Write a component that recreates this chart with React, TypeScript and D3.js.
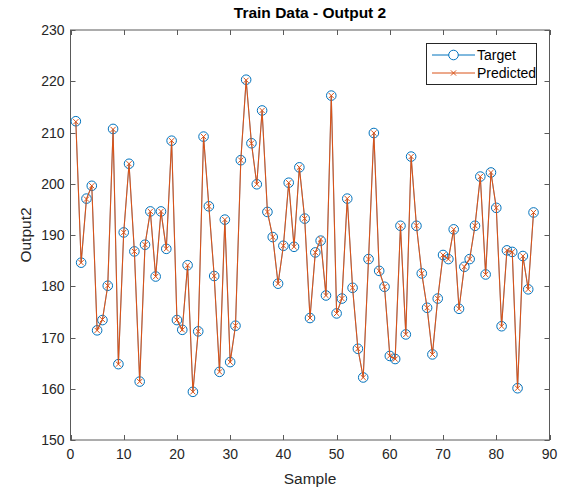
import React, { useEffect, useRef } from 'react';
import * as d3 from 'd3';

const target: number[] = [
    212.2, 184.6, 197.1, 199.6, 171.4, 173.4, 180.1, 210.7, 164.8, 190.5,
    203.9, 186.8, 161.4, 188.1, 194.6, 181.9, 194.6, 187.3, 208.4, 173.4,
    171.5, 184.1, 159.4, 171.2, 209.2, 195.6, 182.0, 163.3, 193.0, 165.2,
    172.3, 204.6, 220.3, 207.9, 199.9, 214.3, 194.5, 189.6, 180.5, 187.9,
    200.2, 187.7, 203.2, 193.2, 173.8, 186.6, 188.9, 178.2, 217.2, 174.7,
    177.6, 197.1, 179.7, 167.8, 162.2, 185.3, 209.9, 183.0, 179.9, 166.4,
    165.8, 191.8, 170.6, 205.3, 191.8, 182.5, 175.8, 166.7, 177.6, 186.1,
    185.3, 191.1, 175.6, 183.8, 185.3, 191.8, 201.4, 182.3, 202.2, 195.3,
    172.2, 187.0, 186.7, 160.1, 185.9, 179.4, 194.4,
];

const predicted: number[] = [
    212.1, 184.6, 197.0, 199.6, 171.4, 173.5, 180.1, 210.6, 164.8, 190.5,
    203.9, 186.8, 161.4, 188.1, 194.6, 181.9, 194.6, 187.3, 208.4, 173.4,
    171.5, 184.1, 159.4, 171.2, 209.2, 195.6, 182.0, 163.3, 193.0, 165.2,
    172.3, 204.6, 220.2, 207.9, 199.9, 214.3, 194.5, 189.6, 180.5, 187.9,
    200.2, 187.7, 203.2, 193.2, 173.8, 186.6, 189.2, 178.2, 217.2, 174.7,
    177.6, 197.1, 179.7, 167.8, 162.2, 185.3, 209.9, 183.0, 179.9, 166.4,
    165.8, 191.8, 170.6, 205.3, 191.8, 182.5, 175.8, 166.7, 177.6, 186.1,
    185.3, 191.1, 175.6, 183.8, 185.3, 191.8, 201.4, 182.3, 202.2, 195.3,
    172.2, 187.0, 186.7, 160.1, 185.9, 179.4, 194.4,
];

const xTicks = [0, 10, 20, 30, 40, 50, 60, 70, 80, 90];
const yTicks = [150, 160, 170, 180, 190, 200, 210, 220, 230];
const seriesNames = ['Target', 'Predicted'];
const seriesColors = ['#0072BD', '#D95319'];

const App: React.FC = () => {
    const svgRef = useRef<SVGSVGElement | null>(null);

    useEffect(() => {
        const svg = d3.select(svgRef.current);
        svg.selectAll("*").remove();

        const width = 574;
        const height = 488;
        const margin = { top: 30, right: 24.5, bottom: 48, left: 70.5 };
        const font = "'Liberation Sans', Arial, sans-serif";
        const frame = "#5a5a5a";
        const textColor = "#262626";

        const x = d3.scaleLinear().domain([0, 90]).range([margin.left, width - margin.right]);
        const y = d3.scaleLinear().domain([150, 230]).range([height - margin.bottom, margin.top]);

        svg.append("rect").attr("width", width).attr("height", height).attr("fill", "#fff");

        const [x0, x1] = x.range();
        const [y0, y1] = y.range();
        const tl = 5;

        // Ticks (inside, on all four sides)
        const ticks = svg.append("g").attr("stroke", frame).attr("stroke-width", 1);
        xTicks.forEach(t => {
            const px = Math.round(x(t)) + 0.5;
            ticks.append("line").attr("x1", px).attr("x2", px).attr("y1", y0).attr("y2", y0 - tl);
            ticks.append("line").attr("x1", px).attr("x2", px).attr("y1", y1).attr("y2", y1 + tl);
        });
        yTicks.forEach(t => {
            const py = Math.round(y(t)) + 0.5;
            ticks.append("line").attr("x1", x0).attr("x2", x0 + tl).attr("y1", py).attr("y2", py);
            ticks.append("line").attr("x1", x1).attr("x2", x1 - tl).attr("y1", py).attr("y2", py);
        });

        // Frame
        svg.append("rect")
            .attr("x", x0).attr("y", y1)
            .attr("width", x1 - x0).attr("height", y0 - y1)
            .attr("fill", "none").attr("stroke", frame).attr("stroke-width", 1);

        // Tick labels
        svg.append("g")
            .selectAll("text")
            .data(xTicks)
            .enter()
            .append("text")
            .attr("x", d => x(d))
            .attr("y", y0 + 19)
            .attr("text-anchor", "middle")
            .attr("font-family", font).attr("font-size", 14).attr("fill", textColor)
            .text(d => d);

        svg.append("g")
            .selectAll("text")
            .data(yTicks)
            .enter()
            .append("text")
            .attr("x", x0 - 6)
            .attr("y", d => y(d) + 5)
            .attr("text-anchor", "end")
            .attr("font-family", font).attr("font-size", 14).attr("fill", textColor)
            .text(d => d);

        // Title and axis labels
        svg.append("text")
            .attr("x", (x0 + x1) / 2).attr("y", 18)
            .attr("text-anchor", "middle")
            .attr("font-family", font).attr("font-size", 15.5).attr("font-weight", "bold")
            .attr("fill", "#000")
            .text("Train Data - Output 2");

        svg.append("text")
            .attr("x", (x0 + x1) / 2).attr("y", 484)
            .attr("text-anchor", "middle")
            .attr("font-family", font).attr("font-size", 15.5).attr("fill", textColor)
            .text("Sample");

        svg.append("text")
            .attr("transform", `translate(31,${(y0 + y1) / 2}) rotate(-90)`)
            .attr("text-anchor", "middle")
            .attr("font-family", font).attr("font-size", 15.5).attr("fill", textColor)
            .text("Output2");

        const line = d3.line<number>()
            .x((_, i) => x(i + 1))
            .y(d => y(d));

        // Target series (line mostly hidden under the predicted one)
        svg.append("path")
            .datum(target)
            .attr("d", line)
            .attr("fill", "none")
            .attr("stroke", seriesColors[0])
            .attr("stroke-width", 0.6);

        svg.append("g")
            .selectAll("circle")
            .data(target)
            .enter()
            .append("circle")
            .attr("cx", (_, i) => x(i + 1))
            .attr("cy", d => y(d))
            .attr("r", 4.8)
            .attr("fill", "none")
            .attr("stroke", seriesColors[0])
            .attr("stroke-width", 1);

        // Predicted series
        svg.append("path")
            .datum(predicted)
            .attr("d", line)
            .attr("fill", "none")
            .attr("stroke", seriesColors[1])
            .attr("stroke-width", 1.1);

        const cross = (g: d3.Selection<SVGGElement, unknown, null, undefined>, cx: number, cy: number, s: number) => {
            g.append("line").attr("x1", cx - s).attr("x2", cx + s).attr("y1", cy - s).attr("y2", cy + s);
            g.append("line").attr("x1", cx - s).attr("x2", cx + s).attr("y1", cy + s).attr("y2", cy - s);
        };

        const crosses = svg.append("g").attr("stroke", seriesColors[1]).attr("stroke-width", 1);
        predicted.forEach((d, i) => cross(crosses, x(i + 1), y(d), 2.6));

        // Legend
        const lg = svg.append("g");
        lg.append("rect")
            .attr("x", 426.5).attr("y", 43.5)
            .attr("width", 110).attr("height", 41)
            .attr("fill", "#fff").attr("stroke", "#262626").attr("stroke-width", 1);

        seriesNames.forEach((name, i) => {
            const ly = 55 + i * 18;
            lg.append("line")
                .attr("x1", 432).attr("x2", 475)
                .attr("y1", ly).attr("y2", ly)
                .attr("stroke", seriesColors[i]).attr("stroke-width", 1);
            if (i === 0) {
                lg.append("circle")
                    .attr("cx", 453.5).attr("cy", ly).attr("r", 4.8)
                    .attr("fill", "#fff").attr("stroke", seriesColors[i]);
            } else {
                const g = lg.append("g").attr("stroke", seriesColors[i]);
                cross(g, 453.5, ly, 2.6);
            }
            lg.append("text")
                .attr("x", 477).attr("y", ly + 5)
                .attr("font-family", font).attr("font-size", 14).attr("fill", "#000")
                .text(name);
        });
    }, []);

    return (
        <svg
            ref={svgRef}
            width={574}
            height={488}
            style={{ position: 'absolute', left: 0, top: 0, display: 'block' }}
        ></svg>
    );
};

export default App;
